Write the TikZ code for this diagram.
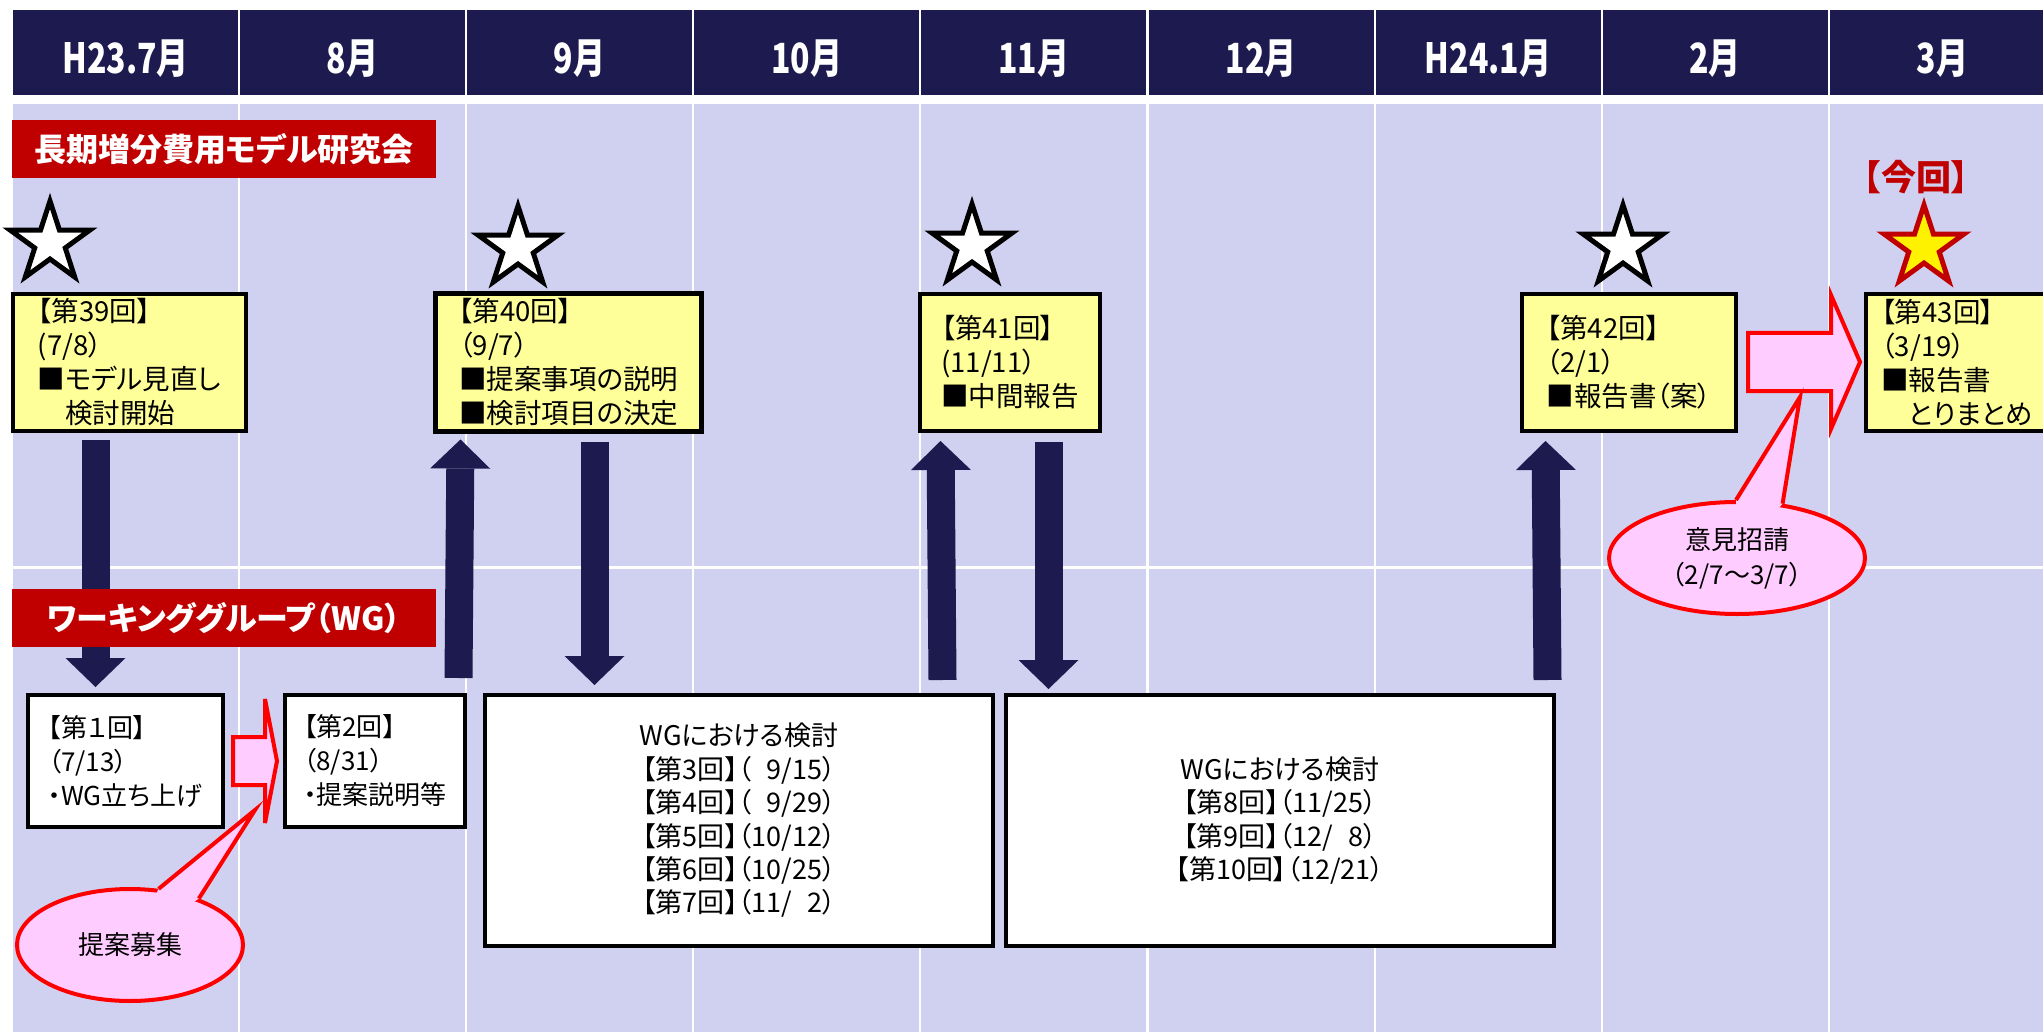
\documentclass[tikz,border=0pt]{standalone}
\usepackage{graphicx}
\usepackage{fontspec}
\setmainfont{Noto Sans CJK JP}[RawFeature=+palt]
\usetikzlibrary{arrows.meta,calc,shapes.geometric}

\definecolor{navy}{RGB}{28,26,78}
\definecolor{lav}{RGB}{208,209,240}
\definecolor{ylw}{RGB}{255,255,153}
\definecolor{dred}{RGB}{192,0,0}
\definecolor{pnk}{RGB}{255,204,255}
\definecolor{brd}{RGB}{255,0,0}

\tikzset{
  hdr/.style={fill=navy, minimum width=225pt, minimum height=85pt, inner sep=0pt},
  hdrtext/.style={text=white, inner sep=0pt, font=\fontsize{32}{36}\selectfont\bfseries},
  redlabel/.style={fill=dred, text=white, minimum width=424pt, minimum height=58pt, inner sep=0pt},
  ybox/.style={draw=black, fill=ylw, line width=4pt, minimum height=137pt, inner sep=0pt, align=left, font=\fontsize{27.5}{34}\selectfont},
  wbox/.style={draw=black, fill=white, line width=4pt, inner sep=0pt, font=\fontsize{26}{34}\selectfont},
  starmark/.style={star, star points=5, star point ratio=2.618, minimum size=84pt, inner sep=0pt, draw=black, fill=white, line width=5pt, line join=miter},
  navyarrow/.style={draw=navy, line width=28pt, -{Triangle[width=60pt,length=29pt,line width=0pt]}},
  pinkarrow/.style={draw=brd, fill=pnk, line width=4pt, line join=miter},
  bubble/.style={ellipse, draw=brd, fill=pnk, line width=4pt, inner sep=0pt, align=center, font=\fontsize{26}{35}\selectfont},
}

\begin{document}
\begin{tikzpicture}[x=1pt,y=-1pt]
		\useasboundingbox (0,0) rectangle (2043,1032);
		\fill[white] (0,0) rectangle (2043,1032);
		% month grid
		\foreach \i in {0,...,8} {
			\fill[lav] (13+227.1*\i,104) rectangle ++(225,461.5);
			\fill[lav] (13+227.1*\i,568.5) rectangle ++(225,470);
		}
		\foreach \m [count=\i from 0] in {H23.7月,8月,9月,10月,11月,12月,H24.1月,2月,3月} {
			\node[hdr] (h\i) at (125.5+227.1*\i,52.5) {};
			\node[hdrtext] (ht\i) at ([yshift=-6pt]h\i.center) {\scalebox{1}[1.3]{\m}};
		}
		% meetings of the study group
		\node[ybox, minimum width=233pt] (B39) at (129.5,362.5) {【第39回】\\(7/8）\\■モデル見直し\\　検討開始};
		\node[ybox, minimum width=266pt, minimum height=138pt, line width=5pt] (B40) at (568.5,362.5) {【第40回】\\（9/7）\\■提案事項の説明\\■検討項目の決定};
		\node[ybox, minimum width=180pt] (B41) at (1010,362.5) {【第41回】\\(11/11）\\■中間報告};
		\node[ybox, minimum width=214pt] (B42) at (1629,362.5) {【第42回】\\（2/1）\\■報告書（案）};
		\node[ybox, minimum width=182pt] (B43) at (1957,362.5) {【第43回】\\（3/19）\\■報告書\\　とりまとめ};
		% working group
		\node[wbox, minimum width=195pt, minimum height=132pt, align=left] (W1) at (125.5,761) {【第１回】\\（7/13）\\・WG立ち上げ};
		\node[wbox, minimum width=180pt, minimum height=132pt, align=left] (W2) at (375,761) {【第2回】\\（8/31）\\・提案説明等};
		\node[wbox, minimum width=508pt, minimum height=251pt, align=center, font=\fontsize{27}{33.4}\selectfont] (WA) at (739,820.5) {WGにおける検討\\【第3回】（\hphantom{1}9/15）\\【第4回】（\hphantom{1}9/29）\\【第5回】（10/12）\\【第6回】（10/25）\\【第7回】（11/\hphantom{0}2）};
		\node[wbox, minimum width=548pt, minimum height=251pt, align=center, font=\fontsize{27}{33.4}\selectfont] (WB) at (1280,820.5) {WGにおける検討\\【第8回】（11/25）\\【第9回】（12/\hphantom{0}8）\\【第10回】（12/21）};
		% links between the two rows
		\draw[navyarrow] ([xshift=-34pt,yshift=-7pt]B39.south) -- ([xshift=-30pt,yshift=6pt]W1.north);
		\draw[navyarrow] ([xshift=-24.5pt,yshift=15pt]WA.north west) -- ([xshift=-108pt,yshift=-5.5pt]B40.south);
		\draw[navyarrow] ([xshift=26pt,yshift=-7.5pt]B40.south) -- ([xshift=-144.5pt,yshift=8pt]WA.north);
		\draw[navyarrow] ([xshift=-52.5pt,yshift=13pt]WA.north east) -- ([xshift=-69.5pt,yshift=-8pt]B41.south);
		\draw[navyarrow] ([xshift=38.5pt,yshift=-9pt]B41.south) -- ([xshift=-231.5pt,yshift=4pt]WB.north);
		\draw[navyarrow] ([xshift=-8.5pt,yshift=13pt]WB.north east) -- ([xshift=-83.5pt,yshift=-8pt]B42.south);
		\node[redlabel, font=\fontsize{32}{32}\selectfont\bfseries] (ltitle) at (224,149) {長期増分費用モデル研究会};
		\node[redlabel, font=\fontsize{32}{32}\selectfont\bfseries] (lwg) at (224,618) {ワーキンググループ（WG）};
		% stars
		\node[starmark] (s39) at (50,243) {};
		\node[starmark] (s40) at (518,248) {};
		\node[starmark] (s41) at (972,246) {};
		\node[starmark] (s42) at (1623,247) {};
		\node[starmark, fill=yellow, draw=dred] (s43) at (1924,247) {};
		\node[text=dred, font=\fontsize{35}{35}\selectfont\bfseries] (now) at (1916,177) {【今回】};
		% pink arrows
		\draw[pinkarrow] ([xshift=8pt,yshift=24pt]W1.east) -- ++(32,0) -- ++(0,-38) -- ++(12,62) -- ++(-12,62) -- ++(0,-38) -- ++(-32,0) -- cycle;
		\draw[pinkarrow] ([xshift=10pt,yshift=29.5pt]B42.east) -- ++(83,0) -- ++(0,-38) -- ++(29,67) -- ++(-29,67) -- ++(0,-38) -- ++(-83,0) -- cycle;
		% call-outs
		\node[bubble, minimum width=226pt, minimum height=112pt] (C1) at (130,945) {提案募集};
		\coordinate (C1tip) at (255,810);
		\fill[pnk] ($(C1.63)!5pt!(C1.center)$) -- (C1.63) -- (C1tip) -- (C1.34) -- ($(C1.34)!5pt!(C1.center)$) -- cycle;
		\draw[brd, line width=4pt, line join=miter] (C1.63) -- (C1tip) -- (C1.34);
		\node[bubble, minimum width=256pt, minimum height=112pt] (C2) at (1737,558) {意見招請\\（2/7～3/7）};
		\coordinate (C2tip) at (1800,397);
		\fill[pnk] ($(C2.91)!5pt!(C2.center)$) -- (C2.91) -- (C2tip) -- (C2.50) -- ($(C2.50)!5pt!(C2.center)$) -- cycle;
		\draw[brd, line width=4pt, line join=miter] (C2.91) -- (C2tip) -- (C2.50);
\end{tikzpicture}
\end{document}
